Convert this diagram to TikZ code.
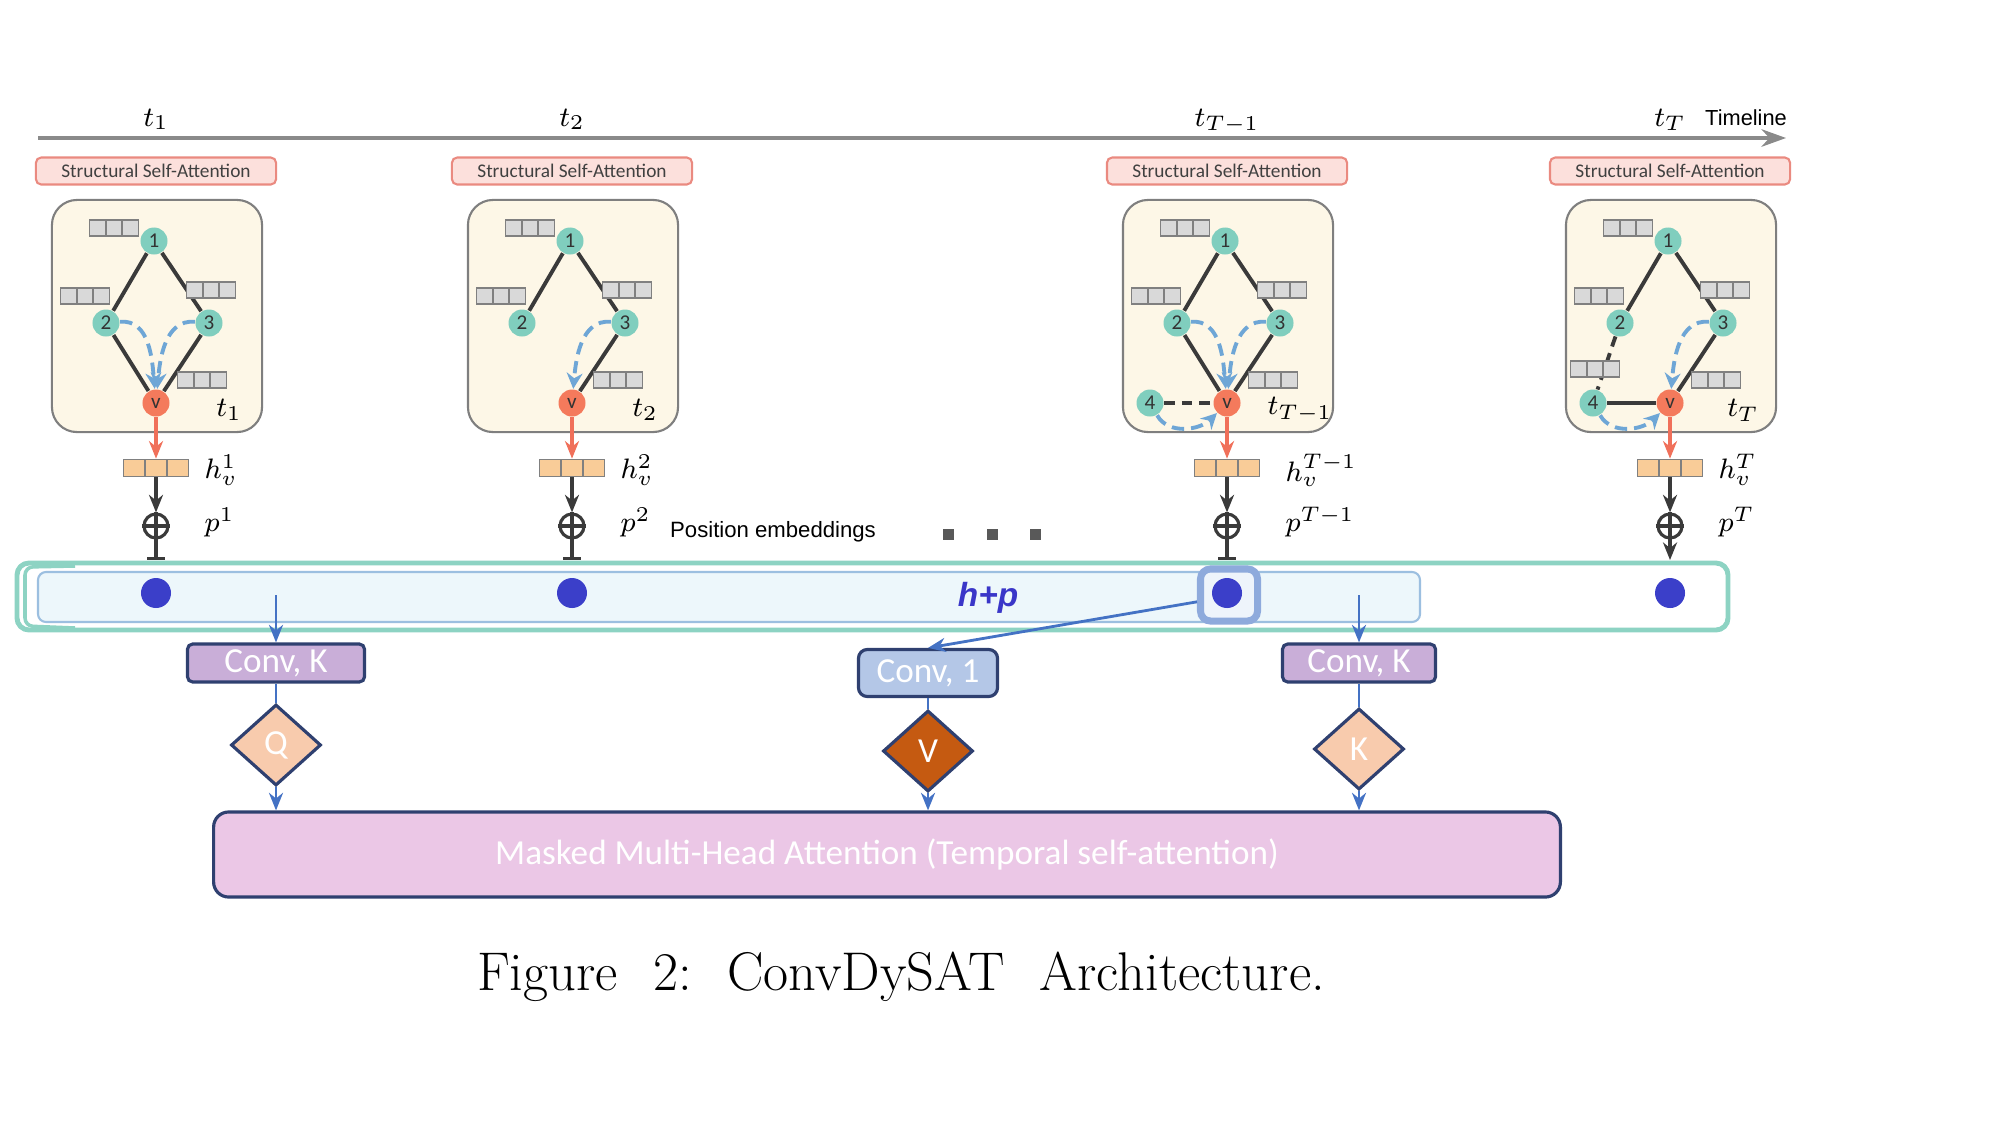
\documentclass[tikz,border=0pt]{standalone}
\usepackage{fontspec}
\newfontfamily\calfont{Carlito}
\newfontfamily\arialfont{Liberation Sans}
\usetikzlibrary{arrows.meta}
\usetikzlibrary{shapes.geometric}
\usetikzlibrary{calc}
\usetikzlibrary{positioning}
\definecolor{ssa-pink}{RGB}{252,224,220}
\definecolor{ssa-edge}{RGB}{234,138,128}
\definecolor{panel-cream}{RGB}{253,247,231}
\definecolor{panel-edge}{RGB}{127,127,127}
\definecolor{node-teal}{RGB}{128,206,190}
\definecolor{node-red}{RGB}{244,122,92}
\definecolor{emb-gray}{RGB}{217,217,217}
\definecolor{emb-edge}{RGB}{128,128,128}
\definecolor{emb-orange}{RGB}{249,204,152}
\definecolor{edge-dark}{RGB}{58,58,58}
\definecolor{att-blue}{RGB}{110,166,214}
\definecolor{arrow-red}{RGB}{240,112,90}
\definecolor{time-gray}{RGB}{138,138,138}
\definecolor{band-teal}{RGB}{141,211,195}
\definecolor{band-fill}{RGB}{237,247,251}
\definecolor{band-edge}{RGB}{156,191,224}
\definecolor{dot-blue}{RGB}{59,63,201}
\definecolor{hl-edge}{RGB}{142,170,220}
\definecolor{hl-fill}{RGB}{238,244,251}
\definecolor{hp-blue}{RGB}{58,54,200}
\definecolor{conn-blue}{RGB}{68,114,196}
\definecolor{convk-fill}{RGB}{201,174,216}
\definecolor{conv1-fill}{RGB}{180,199,231}
\definecolor{box-edge}{RGB}{47,64,112}
\definecolor{qk-fill}{RGB}{248,203,173}
\definecolor{v-fill}{RGB}{197,90,17}
\definecolor{mha-fill}{RGB}{235,199,230}
\tikzset{
  ssa/.style={draw=ssa-edge, fill=ssa-pink, line width=0.6pt, rounded corners=1.5pt, minimum width=2.4cm, minimum height=0.27cm, inner sep=0pt, font=\calfont\fontsize{5.5}{6.5}\selectfont, text=black!75},
  panel/.style={draw=panel-edge, fill=panel-cream, line width=0.6pt, rounded corners=0.25cm, minimum width=2.1cm, minimum height=2.32cm},
  gnode/.style={circle, fill=node-teal, minimum size=0.27cm, inner sep=0pt, font=\calfont\fontsize{6}{7}\selectfont, text=black!80},
  vnode/.style={gnode, fill=node-red},
  emb/.style={draw=emb-edge, fill=emb-gray, line width=0.5pt, minimum width=0.49cm, minimum height=0.16cm, inner sep=0pt,
    path picture={
      \draw[emb-edge, line width=0.5pt]
        ($(path picture bounding box.north west)!0.3333!(path picture bounding box.north east)$) -- ($(path picture bounding box.south west)!0.3333!(path picture bounding box.south east)$)
        ($(path picture bounding box.north west)!0.6667!(path picture bounding box.north east)$) -- ($(path picture bounding box.south west)!0.6667!(path picture bounding box.south east)$);
    }},
  hbox/.style={emb, fill=emb-orange, minimum width=0.65cm, minimum height=0.17cm},
  gedge/.style={edge-dark, line width=1.1pt},
  gdash/.style={gedge, dash pattern=on 3pt off 2pt},
  attn/.style={att-blue, line width=1.1pt, dash pattern=on 3.5pt off 2pt, -{Stealth[length=4.5pt,width=4.5pt]}},
  tlabel/.style={font=\fontsize{8}{9.6}\selectfont, anchor=base},
  mlabel/.style={font=\fontsize{8}{9.6}\selectfont, inner sep=0pt},
  oplus/.style={circle, draw=edge-dark, line width=0.9pt, minimum size=0.24cm, inner sep=0pt},
  darkline/.style={edge-dark, line width=0.9pt},
  darkarrow/.style={darkline, -{Stealth[length=5pt,width=4pt]}},
  redarrow/.style={arrow-red, line width=0.9pt, -{Stealth[length=5pt,width=4pt]}},
  barend/.style={-{Bar[width=5pt,line width=0.9pt]}},
  arrowend/.style={-{Stealth[length=5pt,width=4pt]}},
  pdot/.style={circle, fill=dot-blue, minimum size=0.3cm, inner sep=0pt},
  hilite/.style={draw=hl-edge, fill=hl-fill, line width=2pt, rounded corners=0.1cm, minimum width=0.57cm, minimum height=0.52cm},
  sq/.style={fill=black!65, minimum size=0.11cm, inner sep=0pt},
  convk/.style={draw=box-edge, fill=convk-fill, line width=0.9pt, rounded corners=1.5pt, minimum height=0.38cm, inner sep=0pt, font=\calfont\fontsize{10}{12}\selectfont, text=white},
  conv1/.style={convk, fill=conv1-fill, minimum width=1.39cm, minimum height=0.47cm, rounded corners=2.5pt},
  qk/.style={diamond, draw=box-edge, fill=qk-fill, line width=0.9pt, minimum width=0.9cm, minimum height=0.81cm, inner sep=0pt, font=\calfont\fontsize{10}{12}\selectfont, text=white},
  vd/.style={qk, fill=v-fill},
  mha/.style={draw=box-edge, fill=mha-fill, line width=0.9pt, rounded corners=0.15cm, minimum width=13.46cm, minimum height=0.85cm, font=\calfont\fontsize{10}{12}\selectfont, text=white},
  blueline/.style={conn-blue, line width=0.8pt},
  bluearrow/.style={blueline, -{Stealth[length=5pt,width=4pt]}},
  timearrow/.style={time-gray, line width=1pt, -{Stealth[length=7pt,width=5pt]}}
}
\begin{document}
\begin{tikzpicture}[x=0.01cm, y=-0.01cm]
\useasboundingbox (0,0) rectangle (2010,1142);
% timeline
\coordinate (ts) at (38,138);
\coordinate (te) at (1786,138);
\draw[timearrow] (ts) -- (te);
\node[font=\arialfont\fontsize{6.2}{7.4}\selectfont, anchor=base] (tline) at (1746,125) {Timeline};
% band of h+p
\draw[band-teal, line width=1.4pt, fill=white, rounded corners=0.12cm] (17,563) rectangle (1728,630);
\draw[band-teal, line width=1pt, rounded corners=0.08cm] (75,566) -- (25,567) -- (25,626) -- (75,628);
\draw[band-edge, line width=0.6pt, fill=band-fill, rounded corners=0.08cm] (38,572) rectangle (1420,622);
\node[hilite] (hil) at (1229,595) {};
\node[font=\arialfont\bfseries\itshape\fontsize{9.5}{11}\selectfont, text=hp-blue] (hp) at (988,598) {h+p};
% time steps
\foreach \i/\c/\o/\s/\tip in {1/156/48/1/barend, 2/572/48/2/barend, 3/1227/58/T-1/barend, 4/1670/48/T/arrowend}{
  \node[tlabel] (tl\i) at (\c,126) {$t_{\s}$};
  \node[ssa] (ssa\i) at (\c,171) {Structural Self-Attention};
  \node[panel] (pan\i) at (\c+1,316) {};
  \node[gnode] (one\i) at (\c-2,241) {1};
  \node[gnode] (two\i) at (\c-50,323) {2};
  \node[gnode] (three\i) at (\c+53,323) {3};
  \node[vnode] (v\i) at (\c,403) {v};
  \node[mlabel] (pt\i) at (\c+73,410) {$t_{\s}$};
  \draw[gedge] (one\i) -- (two\i);
  \draw[gedge] (one\i) -- (three\i);
  \draw[gedge] (three\i) -- (v\i);
  \draw[attn] (three\i) to[out=175,in=85] (v\i);
  \node[emb] (ea\i) at (\c-42,228) {};
  \node[emb] (eb\i) at (\c-71,296) {};
  \node[emb] (ec\i) at (\c+55,290) {};
  \node[emb] (ed\i) at (\c+46,380) {};
  \node[hbox] (h\i) at (\c,468) {};
  \node[mlabel, anchor=west] (hv\i) at (\c+\o,470) {$h_v^{\s}$};
  \node[oplus] (pl\i) at (\c,526) {};
  \draw[darkline] (pl\i.north) -- (pl\i.south) (pl\i.west) -- (pl\i.east);
  \node[mlabel, anchor=west] (pv\i) at (\c+\o,522) {$p^{\s}$};
  \draw[redarrow] (v\i) -- (h\i);
  \draw[darkarrow] (h\i) -- (pl\i);
  \coordinate (bt\i) at (\c,560);
  \draw[darkline,\tip] (pl\i) -- (bt\i);
  \node[pdot] (d\i) at (\c,593) {};
}
% extra edges at t_1
\draw[gedge] (two1) -- (v1);
\draw[attn] (two1) to[out=5,in=95] (v1);
% extra edges at t_{T-1}
\node[gnode] (four3) at (1150,403) {4};
\draw[gedge] (two3) -- (v3);
\draw[gdash] (four3) -- (v3);
\draw[attn] (two3) to[out=5,in=95] (v3);
\draw[attn] (four3) to[out=-60,in=-135] (v3);
% extra edges at t_T
\node[gnode] (four4) at (1593,403) {4};
\draw[gdash] (two4) -- (four4);
\draw[gedge] (four4) -- (v4);
\draw[attn] (four4) to[out=-60,in=-135] (v4);
\node[emb] (ee4) at (1595,369) {};
% position embeddings
\node[font=\arialfont\fontsize{6.3}{7.5}\selectfont] (pos) at (773,532) {Position embeddings};
\foreach \k/\xx in {1/948, 2/992, 3/1035}
  \node[sq] (sq\k) at (\xx,534) {};
% temporal attention
\node[convk, minimum width=1.77cm] (ck1) at (276,663) {Conv, K};
\node[conv1] (c1) at (928,673) {Conv, 1};
\node[convk, minimum width=1.53cm] (ck2) at (1359,663) {Conv, K};
\node[qk] (q) at (276,745) {Q};
\node[vd] (vv) at (928,751) {V};
\node[qk] (k) at (1359,749) {K};
\node[mha] (mha) at (887,854.5) {Masked Multi-Head Attention (Temporal self-attention)};
\coordinate (s1) at (276,595);
\coordinate (s2) at (1359,595);
\draw[bluearrow] (s1) -- (ck1);
\draw[bluearrow] (hil.192) -- (c1.north);
\draw[bluearrow] (s2) -- (ck2);
\draw[blueline] (ck1) -- (q);
\draw[blueline] (c1) -- (vv);
\draw[blueline] (ck2) -- (k);
\draw[bluearrow] (q) -- (q |- mha.north);
\draw[bluearrow] (vv) -- (vv |- mha.north);
\draw[bluearrow] (k) -- (k |- mha.north);
% caption
\node[font=\fontsize{15.5}{18}\selectfont] (cap) at (901,977) {Figure\hspace{0.65em}2:\hspace{0.65em}ConvDySAT\hspace{0.65em}Architecture.};
\end{tikzpicture}
\end{document}
